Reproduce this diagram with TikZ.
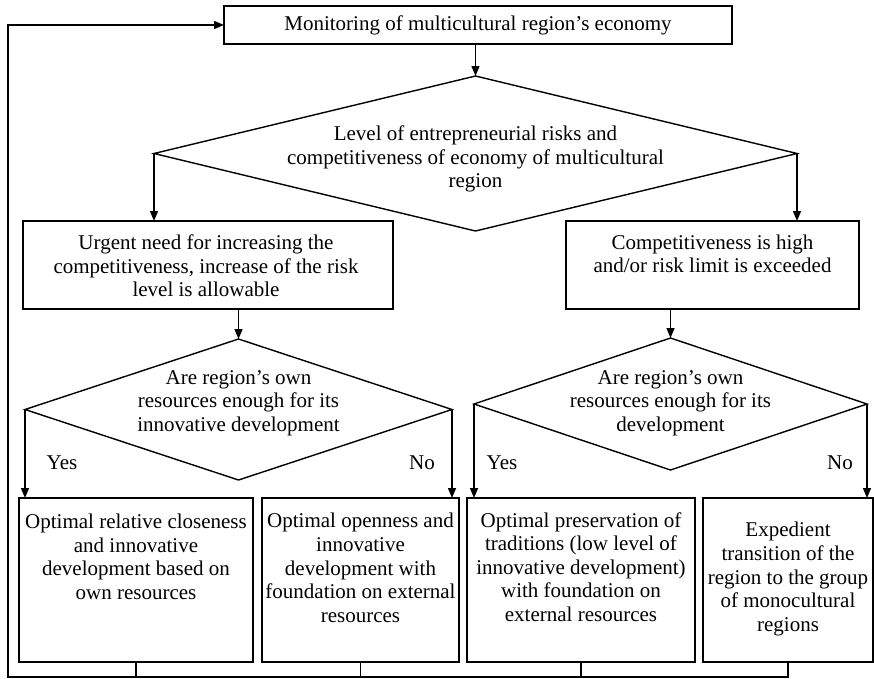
\documentclass[tikz,border=0pt]{standalone}
\usepackage{fontspec}
\setmainfont{Liberation Serif}
\usetikzlibrary{shapes.geometric,arrows.meta}
\begin{document}
\begin{tikzpicture}[x=1pt,y=-1pt,
  every node/.style={font=\fontsize{21pt}{23.6pt}\selectfont},
  box/.style={draw,line width=1.4pt,inner sep=0pt,outer sep=0pt},
  dia/.style={draw,diamond,line width=1.4pt,inner sep=0pt,outer sep=0pt},
  txt/.style={align=center,inner sep=0pt},
  arr/.style={line width=1.4pt,-{Triangle[length=10pt,width=8pt]}},
  ln/.style={line width=1.4pt}]
\useasboundingbox (0,0) rectangle (874,678);

% top box
\node[box, minimum width=508pt, minimum height=38pt] (top) at (478,25) {Monitoring of multicultural region’s economy};

% first decision
\node[dia, minimum width=643pt, minimum height=155pt] (d1) at (475.5,153.5) {};
\node[txt] (d1t) at (475.5,159) {Level of entrepreneurial risks and\\competitiveness of economy of multicultural\\region};

% upper boxes
\node[box, minimum width=370pt, minimum height=88pt] (ul) at (208,265) {};
\node[txt] (ult) at (206,266) {Urgent need for increasing the\\competitiveness, increase of the risk\\level is allowable};
\node[box, minimum width=293pt, minimum height=88pt] (ur) at (712.5,265) {};
\node[txt] (urt) at (712.5,254) {Competitiveness is high\\and/or risk limit is exceeded};

% second level decisions
\node[dia, minimum width=427pt, minimum height=141pt] (d2) at (238.5,409.5) {};
\node[txt] (d2t) at (238.5,403) {Are region’s own\\resources enough for its\\innovative development};
\node[dia, minimum width=393pt, minimum height=132pt] (d3) at (670.5,404) {};
\node[txt] (d3t) at (670.5,403) {Are region’s own\\resources enough for its\\development};

\node[txt] (y1) at (62,463) {Yes};
\node[txt] (n1) at (422,463) {No};
\node[txt] (y2) at (502,463) {Yes};
\node[txt] (n2) at (840,463) {No};

% bottom boxes
\node[box, minimum width=234pt, minimum height=164pt] (b1) at (136,580) {};
\node[txt] (b1t) at (136,557) {Optimal relative closeness\\and innovative\\development based on\\own resources};
\node[box, minimum width=197pt, minimum height=164pt] (b2) at (360.5,580) {};
\node[txt] (b2t) at (360.5,568) {Optimal openness and\\innovative\\development with\\foundation on external\\resources};
\node[box, minimum width=228pt, minimum height=164pt] (b3) at (581,580) {};
\node[txt] (b3t) at (581,567) {Optimal preservation of\\traditions (low level of\\innovative development)\\with foundation on\\external resources};
\node[box, minimum width=170pt, minimum height=164pt] (b4) at (788,580) {};
\node[txt] (b4t) at (788,579) {Expedient\\transition of the\\region to the group\\of monocultural\\regions};

\coordinate (fb) at (8,677);

% connectors
\draw[arr] (d1.north |- top.south) -- (d1.north);
\draw[arr] (d1.west) -- (d1.west |- ul.north);
\draw[arr] (d1.east) -- (d1.east |- ur.north);
\draw[arr] (d2.north |- ul.south) -- (d2.north);
\draw[arr] (d3.north |- ur.south) -- (d3.north);
\draw[arr] (d2.west) -- (d2.west |- b1.north);
\draw[arr] (d2.east) -- (d2.east |- b2.north);
\draw[arr] (d3.west) -- (d3.west |- b3.north);
\draw[arr] (d3.east) -- (d3.east |- b4.north);

% feedback loop
\draw[ln] (b4.south) |- (fb);
\draw[ln] (b2.south) -- (b2.south |- fb);
\draw[ln] (b3.south) -- (b3.south |- fb);
\draw[arr] (b1.south) |- (fb) |- (top.west);
\end{tikzpicture}
\end{document}
